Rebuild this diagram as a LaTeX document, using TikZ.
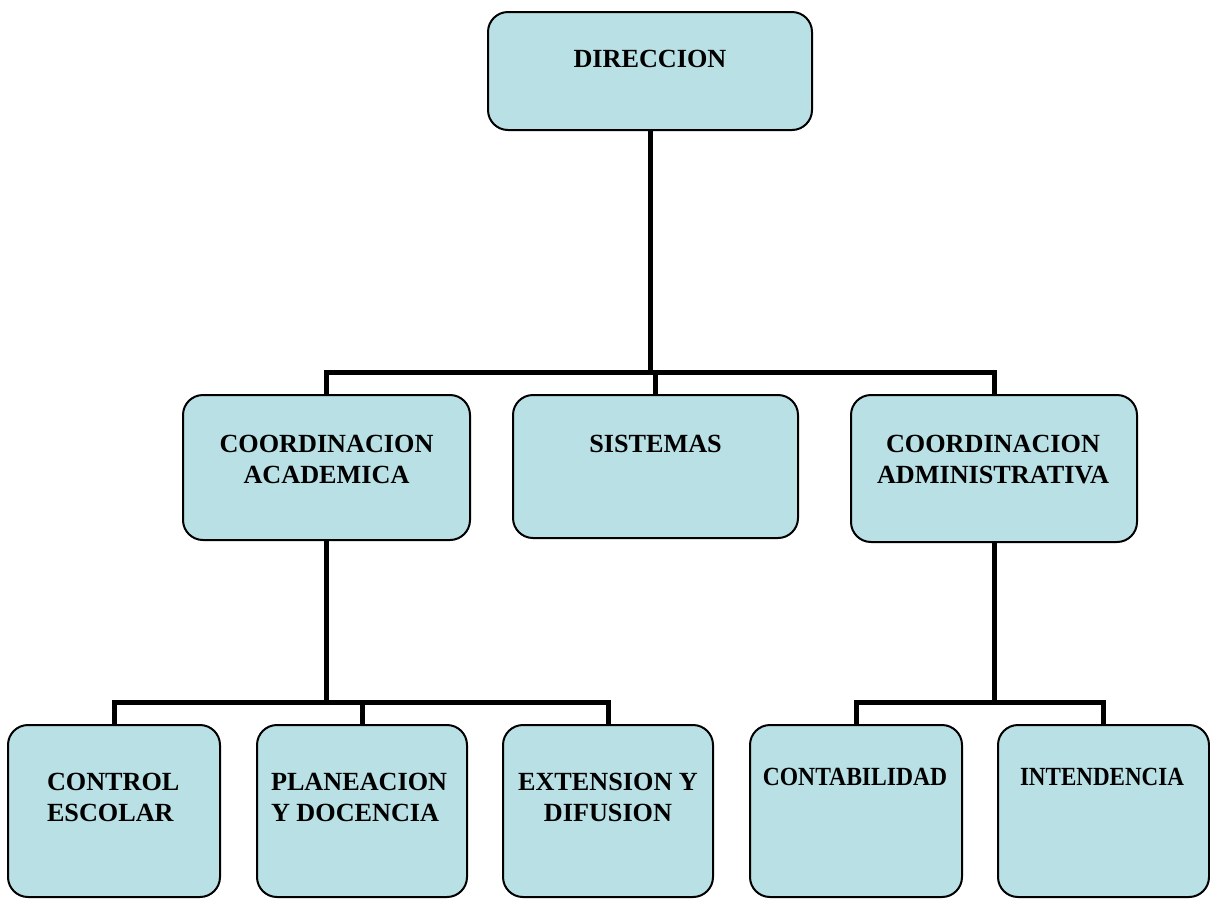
\documentclass[tikz,border=0pt]{standalone}
\usepackage{fontspec}
\setmainfont{Liberation Serif}
\usepackage{graphicx}
\definecolor{boxfill}{RGB}{185,224,228}
\begin{document}
\begin{tikzpicture}[x=1pt,y=-1pt,
  box/.style={draw=black, line width=2pt, fill=boxfill, rounded corners=20pt, inner sep=0pt, outer sep=0pt},
  lbl/.style={font=\fontsize{26.2}{31}\selectfont\bfseries, inner sep=0pt, outer sep=0pt, align=center},
  lbll/.style={font=\fontsize{26.2}{31}\selectfont\bfseries, inner sep=0pt, outer sep=0pt, align=left},
  conn/.style={line width=5pt, line join=miter, draw=black}]
\useasboundingbox (0,0) rectangle (1210,898);

% connectors (drawn first, boxes on top)
\coordinate (bus1) at (650,372);
\coordinate (dirS) at (650,130);
\coordinate (acadN) at (326.5,395);
\coordinate (sisN) at (655.5,395);
\coordinate (admN) at (994,395);
\coordinate (acadS) at (326.5,540);
\coordinate (admS) at (994,542);
\coordinate (bus2) at (326.5,702);
\coordinate (bus3) at (994,702);
\coordinate (ctrlN) at (114,725);
\coordinate (planN) at (362,725);
\coordinate (extN) at (608,725);
\coordinate (contN) at (856,725);
\coordinate (intN) at (1103.5,725);

\draw[conn] (dirS) -- (bus1);
\draw[conn] (acadN) |- (bus1) -| (admN);
\draw[conn] (sisN) -- (sisN |- bus1);
\draw[conn] (acadS) -- (bus2);
\draw[conn] (ctrlN) |- (bus2) -| (extN);
\draw[conn] (planN) -- (planN |- bus2);
\draw[conn] (admS) -- (bus3);
\draw[conn] (contN) |- (bus3) -| (intN);

% boxes
\node[box, minimum width=324pt, minimum height=118pt] (dir) at (650,71) {};
\node[box, minimum width=287pt, minimum height=145pt] (acad) at (326.5,467.5) {};
\node[box, minimum width=285pt, minimum height=143pt] (sis) at (655.5,466.5) {};
\node[box, minimum width=286pt, minimum height=147pt] (adm) at (994,468.5) {};
\node[box, minimum width=212pt, minimum height=172pt] (ctrl) at (114,811) {};
\node[box, minimum width=210pt, minimum height=172pt] (plan) at (362,811) {};
\node[box, minimum width=210pt, minimum height=172pt] (ext) at (608,811) {};
\node[box, minimum width=212pt, minimum height=172pt] (cont) at (856,811) {};
\node[box, minimum width=211pt, minimum height=172pt] (int) at (1103.5,811) {};

% labels
\node[lbl, anchor=base] (dirT) at (650,67) {DIRECCION};
\node[lbl, anchor=base] (sisT) at (655.5,452) {SISTEMAS};
\node[lbl, anchor=north] (acadT) at (326.5,435) {COORDINACION\\ACADEMICA};
\node[lbl, anchor=north] (admT) at (993,435) {COORDINACION\\ADMINISTRATIVA};
\node[lbll, anchor=north west] (ctrlT) at (47,773) {CONTROL\\ESCOLAR};
\node[lbll, anchor=north west] (planT) at (271,773) {PLANEACION\\Y DOCENCIA};
\node[lbl, anchor=north] (extT) at (608,773) {EXTENSION Y\\DIFUSION};
\node[lbl, anchor=base] (contT) at (855,785) {\scalebox{0.9}[1]{CONTABILIDAD}};
\node[lbl, anchor=base] (intT) at (1102,785) {\scalebox{0.88}[1]{INTENDENCIA}};
\end{tikzpicture}
\end{document}
